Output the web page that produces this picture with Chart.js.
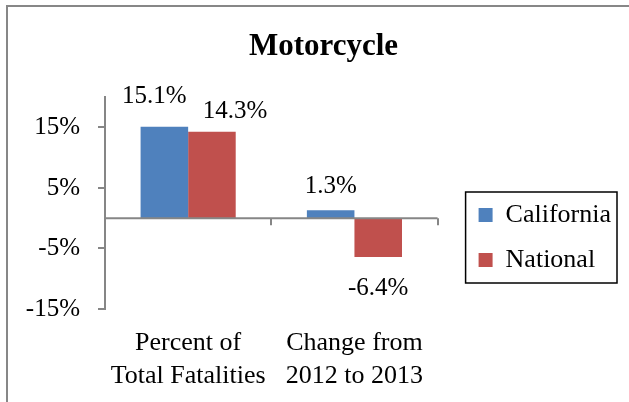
<!DOCTYPE html>
<html>
<head>
<meta charset="utf-8">
<script src="https://cdn.jsdelivr.net/npm/chart.js@4.4.1/dist/chart.umd.min.js"></script>
<style>
  body { margin: 0; background: #fff; }
  #wrap { position: relative; width: 629px; height: 402px; }
  #frame { position: absolute; left: 6px; top: 5px; right: -10px; bottom: -10px;
           border-left: 2px solid #878787; border-top: 2px solid #878787; pointer-events: none; }
</style>
</head>
<body>
<div id="wrap">
  <canvas id="chart" width="629" height="402"></canvas>
  <div id="frame"></div>
</div>
<script>
// chart data
const categories = [['Percent of', 'Total Fatalities'], ['Change from', '2012 to 2013']];
const california = [15.1, 1.3];
const national = [14.3, -6.4];
const yTicks = [-15, -5, 5, 15];

const axisGray = '#868686';
const serif = "'Liberation Serif', 'Times New Roman', serif";

// label nudges (dx, dy) per dataset, per category - Excel moved the first pair apart
const labelNudge = [
  [[-10, -7], [0, 0]],
  [[23, 3], [0, 0]]
];

Chart.defaults.font.family = serif;
Chart.defaults.color = '#000';

// zero line, category tick marks and value labels
const extras = {
  id: 'extras',
  afterDatasetsDraw(chart) {
    const { ctx, chartArea, scales } = chart;
    const y0 = scales.y.getPixelForValue(0);
    const n = categories.length;
    const step = (chartArea.right - chartArea.left) / n;

    ctx.save();
    ctx.strokeStyle = axisGray;
    ctx.lineWidth = 2;
    ctx.beginPath();
    ctx.moveTo(chartArea.left, y0);
    ctx.lineTo(chartArea.right, y0);
    for (let k = 1; k <= n; k++) {
      const x = Math.round(chartArea.left + k * step);
      ctx.moveTo(x, y0);
      ctx.lineTo(x, y0 + 7);
    }
    ctx.stroke();

    ctx.fillStyle = '#000';
    ctx.font = '25px ' + serif;
    ctx.textAlign = 'center';
    ctx.textBaseline = 'alphabetic';
    chart.data.datasets.forEach((ds, di) => {
      chart.getDatasetMeta(di).data.forEach((bar, i) => {
        const v = ds.data[i];
        const [dx, dy] = labelNudge[di][i];
        const y = v >= 0 ? bar.y - 17 : bar.y + 38;
        ctx.fillText(v.toFixed(1) + '%', bar.x + dx, y + dy);
      });
    });
    ctx.restore();
  },
  afterDraw(chart) {
    // border around the legend entries
    const boxes = chart.legend.legendHitBoxes;
    if (!boxes || !boxes.length) return;
    const left = Math.min(...boxes.map(b => b.left)) - 13;
    const top = Math.min(...boxes.map(b => b.top)) - 10;
    const right = Math.max(...boxes.map(b => b.left + b.width)) + 6;
    const bottom = Math.max(...boxes.map(b => b.top + b.height)) + 10;
    const ctx = chart.ctx;
    ctx.save();
    ctx.strokeStyle = '#000';
    ctx.lineWidth = 1.5;
    ctx.strokeRect(left, top, right - left, bottom - top);
    ctx.restore();
  }
};

new Chart(document.getElementById('chart'), {
  type: 'bar',
  data: {
    labels: categories,
    datasets: [
      { label: 'California', data: california, backgroundColor: '#4F81BD' },
      { label: 'National', data: national, backgroundColor: '#C0504D' }
    ]
  },
  options: {
    responsive: false,
    animation: false,
    categoryPercentage: 0.572,
    barPercentage: 1,
    layout: { padding: { left: 26, right: 8, top: 0, bottom: 10 } },
    plugins: {
      title: {
        display: true,
        text: 'Motorcycle',
        font: { size: 31, weight: 'bold', family: serif },
        color: '#000',
        padding: { top: 28, bottom: 32 }
      },
      legend: {
        position: 'right',
        align: 'start',
        maxWidth: 220,
        title: { display: true, text: '', font: { size: 10 }, padding: { top: 171, bottom: 0 } },
        labels: {
          font: { size: 26, family: serif },
          color: '#000',
          boxWidth: 14,
          boxHeight: 14,
          padding: 19
        }
      },
      tooltip: { enabled: false }
    },
    scales: {
      x: {
        grid: { display: false, drawTicks: false },
        border: { display: false },
        ticks: { font: { size: 26, lineHeight: 1.25 }, padding: 18, maxRotation: 0, color: '#000' },
        afterFit: s => { s.height = 83; s.paddingLeft = 0; s.paddingRight = 0; }
      },
      y: {
        min: -15,
        max: 20,
        afterBuildTicks: axis => { axis.ticks = yTicks.map(v => ({ value: v })); },
        grid: { drawOnChartArea: false, tickLength: 7, color: axisGray, lineWidth: 2 },
        border: { color: axisGray, width: 2 },
        ticks: { font: { size: 25 }, padding: 18, color: '#000', callback: v => v + '%' },
        afterFit: s => { s.width = 79; s.paddingTop = 0; s.paddingBottom = 0; }
      },
      y2: {
        position: 'right',
        grid: { display: false },
        border: { display: false },
        ticks: { display: false },
        afterFit: s => { s.width = 22; }
      }
    }
  },
  plugins: [extras]
});
</script>
</body>
</html>
